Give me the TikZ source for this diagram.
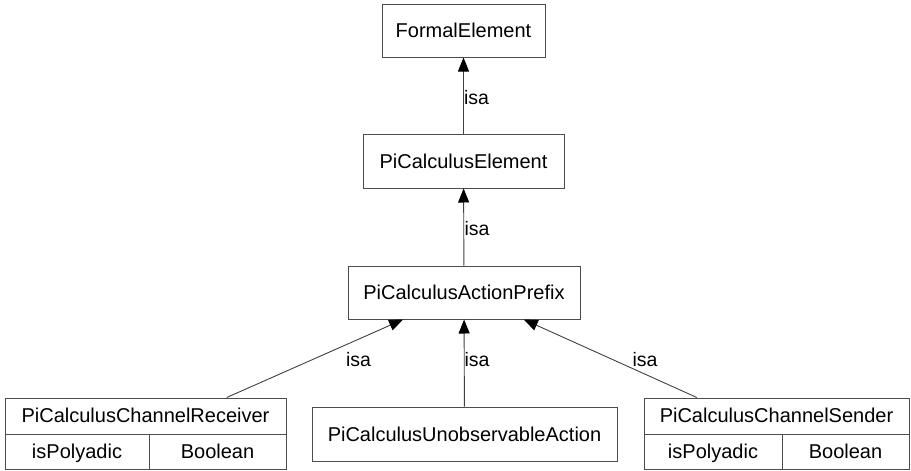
\documentclass[tikz,border=0pt]{standalone}
\usepackage{fontspec}
\setmainfont{Liberation Sans}
\usetikzlibrary{arrows.meta}
\begin{document}
\begin{tikzpicture}[x=1pt,y=-1pt,
  box/.style={draw=black!70,line width=1pt,rectangle,inner sep=0pt,font=\fontsize{20}{24}\selectfont},
  txt/.style={inner sep=0pt,text height=14.5pt,text depth=4.2pt,font=\fontsize{20}{24}\selectfont},
  lbl/.style={inner sep=0pt,font=\fontsize{19.5}{24}\selectfont},
  isa/.style={draw=black!75,line width=0.9pt,-{Triangle[length=14pt,width=11pt,color=black]}},
  cellline/.style={draw=black!70,line width=1pt}]
\useasboundingbox (0,0) rectangle (911,471);
% simple classes
\node[box,minimum width=163pt,minimum height=53pt] (fe) at (463.5,30.5) {FormalElement};
\node[box,minimum width=201pt,minimum height=54pt] (pe) at (463.5,161) {PiCalculusElement};
\node[box,minimum width=232pt,minimum height=53pt] (ap) at (464,292.5) {PiCalculusActionPrefix};
\node[box,minimum width=305pt,minimum height=54pt] (ua) at (464.5,434) {PiCalculusUnobservableAction};
% receiver
\node[box,minimum width=281pt,minimum height=71pt] (rcv) at (145.5,433.5) {};
\node[txt] (rcvt) at (145.5,417) {PiCalculusChannelReceiver};
\node[txt] (rcva) at (77,453) {isPolyadic};
\node[txt] (rcvb) at (217.5,453) {Boolean};
\coordinate (rcvl) at (5,434);
\coordinate (rcvr) at (286,434);
\coordinate (rcvm) at (149,434);
\coordinate (rcvmb) at (149,469);
\draw[cellline] (rcvl) -- (rcvr);
\draw[cellline] (rcvm) -- (rcvmb);
% sender
\node[box,minimum width=265pt,minimum height=71pt] (snd) at (776.5,433.5) {};
\node[txt] (sndt) at (776.5,417) {PiCalculusChannelSender};
\node[txt] (snda) at (713,453) {isPolyadic};
\node[txt] (sndb) at (845.5,453) {Boolean};
\coordinate (sndl) at (644,434);
\coordinate (sndr) at (909,434);
\coordinate (sndm) at (782,434);
\coordinate (sndmb) at (782,469);
\draw[cellline] (sndl) -- (sndr);
\draw[cellline] (sndm) -- (sndmb);
% connectors
\draw[isa] (pe) -- (fe);
\draw[isa] (ap) -- (pe);
\draw[isa] (rcv) -- (ap);
\draw[isa] (ua) -- (ap);
\draw[isa] (snd) -- (ap);
% labels
\node[lbl] (l1) at (476.5,98) {isa};
\node[lbl] (l2) at (477,229) {isa};
\node[lbl] (l3) at (358.5,360) {isa};
\node[lbl] (l4) at (477,360) {isa};
\node[lbl] (l5) at (645,360) {isa};
\end{tikzpicture}
\end{document}
